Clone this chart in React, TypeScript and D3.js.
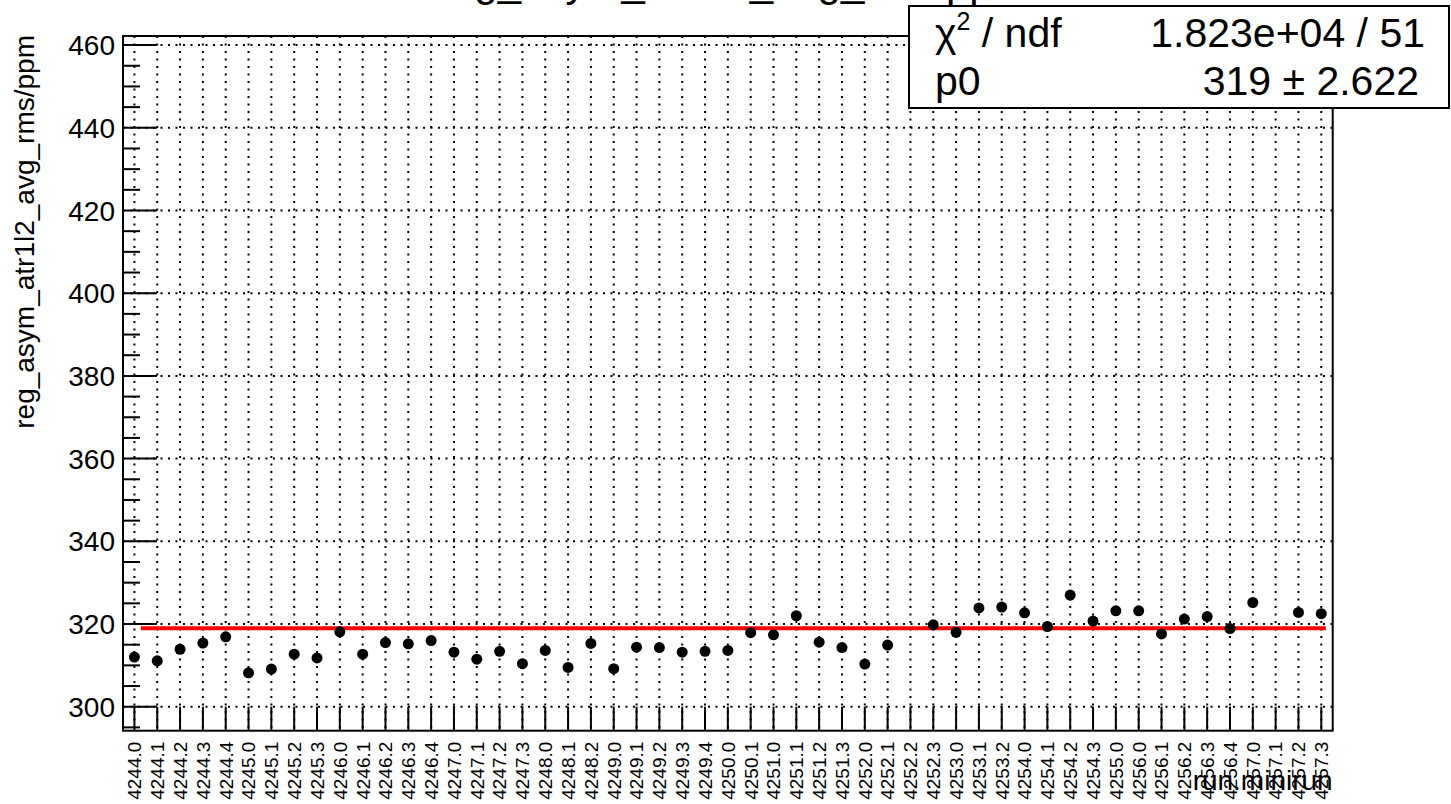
import React from "react";
import * as d3 from "d3";

const categories: string[] = [
  "4244.0","4244.1","4244.2","4244.3","4244.4",
  "4245.0","4245.1","4245.2","4245.3",
  "4246.0","4246.1","4246.2","4246.3","4246.4",
  "4247.0","4247.1","4247.2","4247.3",
  "4248.0","4248.1","4248.2",
  "4249.0","4249.1","4249.2","4249.3","4249.4",
  "4250.0","4250.1",
  "4251.0","4251.1","4251.2","4251.3",
  "4252.0","4252.1","4252.2","4252.3",
  "4253.0","4253.1","4253.2",
  "4254.0","4254.1","4254.2","4254.3",
  "4255.0",
  "4256.0","4256.1","4256.2","4256.3","4256.4",
  "4257.0","4257.1","4257.2","4257.3",
];

const values: (number | null)[] = [
  312.0, 311.1, 313.9, 315.4, 316.9,
  308.2, 309.1, 312.7, 311.8,
  318.1, 312.7, 315.5, 315.2, 316.0,
  313.2, 311.5, 313.4, 310.4,
  313.6, 309.5, 315.3,
  309.2, 314.4, 314.3, 313.2, 313.4,
  313.6, 317.9,
  317.4, 322.0, 315.6, 314.3,
  310.3, 314.9, null, 319.8,
  318.0, 323.9, 324.1,
  322.7, 319.4, 327.0, 320.7,
  323.2,
  323.2, 317.6, 321.2, 321.8, 318.9,
  325.2, null, 322.8, 322.5,
];

const yTicks: number[] = [300, 320, 340, 360, 380, 400, 420, 440, 460];
const fitValue = 319;
const fitRange: [number, number] = [0.28, 52.2];

const titleText = "reg_asym_atr1l2_avg_rms/ppm:run.minirun";
const yTitle = "reg_asym_atr1l2_avg_rms/ppm";
const xTitle = "run.minirun";
const statsRows = [
  { left: "ndf", right: "1.823e+04 / 51" },
  { left: "p0", right: "319 \u00b1 2.622" },
];

const FONT = "'Liberation Sans', Arial, Helvetica, sans-serif";

export default function App() {
  const W = 1451, H = 804;
  const L = 123, R = 1332.7, T = 36, B = 730.7;
  const x = d3.scaleLinear().domain([-0.5, categories.length - 0.5]).range([L, R]);
  const y = d3.scaleLinear().domain([294.2, 462.2]).range([B, T]);
  const minorTicks = d3.range(295, 462, 5).filter((v) => v % 20 !== 0);
  const dot = "2 5.5";

  return (
    <svg width={W} height={H} style={{ position: "absolute", left: 0, top: 0, background: "#fff" }} fontFamily={FONT}>
      <rect x={0} y={0} width={W} height={H} fill="#fff" />
      {/* title (mostly above the visible area, as in the reference) */}
      <text x={437} y={-4.5} fontSize={42} fill="#000">{titleText}</text>
      {/* grid */}
      {categories.map((c, i) => (
        <line key={"gv" + c} x1={x(i)} x2={x(i)} y1={T} y2={B} stroke="#000" strokeWidth={2} strokeDasharray={dot} />
      ))}
      {yTicks.map((v) => (
        <line key={"gh" + v} x1={L} x2={R} y1={y(v)} y2={y(v)} stroke="#000" strokeWidth={2} strokeDasharray={dot} />
      ))}
      {/* frame */}
      <rect x={L} y={T} width={R - L} height={B - T} fill="none" stroke="#000" strokeWidth={2} />
      {/* y ticks */}
      {yTicks.map((v) => (
        <g key={"yt" + v}>
          <line x1={L} x2={L + 34} y1={y(v)} y2={y(v)} stroke="#000" strokeWidth={2} />
          <text x={115} y={y(v)} dy="0.36em" textAnchor="end" fontSize={28} fill="#000">{v}</text>
        </g>
      ))}
      {minorTicks.map((v) => (
        <line key={"ym" + v} x1={L} x2={L + 17} y1={y(v)} y2={y(v)} stroke="#000" strokeWidth={2} />
      ))}
      {/* x ticks & labels */}
      {categories.map((c, i) => (
        <g key={"xt" + c}>
          <line x1={x(i)} x2={x(i)} y1={B} y2={B - 24} stroke="#000" strokeWidth={2} />
          <text
            transform={`translate(${x(i)},${B + 11}) rotate(-90)`}
            dy="0.36em"
            textAnchor="end"
            fontSize={19}
            fill="#000"
          >
            {c}
          </text>
        </g>
      ))}
      {/* axis titles */}
      <text transform={`translate(34,35) rotate(-90)`} textAnchor="end" fontSize={28} fill="#000">{yTitle}</text>
      <text x={R} y={790} textAnchor="end" fontSize={28} fill="#000">{xTitle}</text>
      {/* fit line */}
      <line x1={x(fitRange[0])} x2={x(fitRange[1])} y1={y(fitValue)} y2={y(fitValue)} stroke="#ff0000" strokeWidth={4} />
      {/* points */}
      {values.map((v, i) =>
        v === null ? null : <circle key={"p" + i} cx={x(i)} cy={y(v)} r={5.5} fill="#000" />
      )}
      {/* stats box */}
      <rect x={909} y={6} width={540} height={102} fill="#fff" stroke="#000" strokeWidth={2} />
      <text x={935} y={47} fontSize={41} fill="#000">
        {"\u03c7"}
        <tspan fontSize={25} dy={-17}>2</tspan>
        <tspan dy={17}>{" / " + statsRows[0].left}</tspan>
      </text>
      <text x={1425} y={47} textAnchor="end" fontSize={41} fill="#000">{statsRows[0].right}</text>
      <text x={935} y={95} fontSize={41} fill="#000">{statsRows[1].left}</text>
      <text x={1419} y={95} textAnchor="end" fontSize={41} fill="#000">{statsRows[1].right}</text>
    </svg>
  );
}
